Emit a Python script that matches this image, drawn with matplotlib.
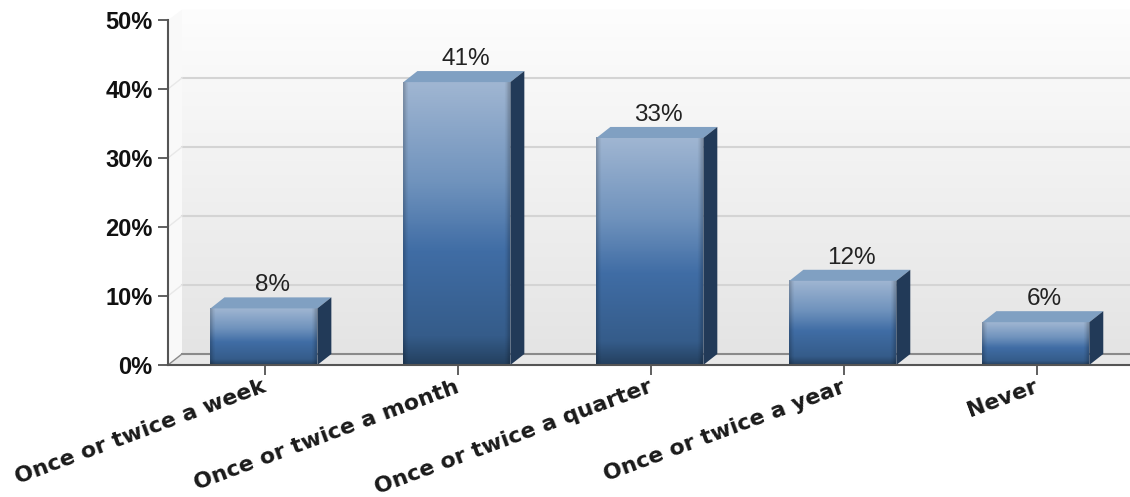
import matplotlib
matplotlib.use("Agg")
import matplotlib.pyplot as plt
import numpy as np
from matplotlib.colors import LinearSegmentedColormap
from matplotlib.patches import Polygon

categories = ["Once or twice a week", "Once or twice a month", "Once or twice a quarter",
              "Once or twice a year", "Never"]
values = [8, 41, 33, 12, 6]
bar_tops = [8.2, 41, 32.9, 12.2, 6.2]
y_ticks = [0, 10, 20, 30, 40, 50]

W, H = 1130, 497
bar_w = 0.554
dx, dy = 0.0725, 1.6  # 3d depth in data units
x0, x1 = -0.497, 4.488

plt.rcParams["font.family"] = ["Liberation Sans", "DejaVu Sans"]

fig = plt.figure(figsize=(W / 100, H / 100), dpi=100)
ax = fig.add_axes([168 / W, 1 - 365 / H, (W - 168) / W, 345 / H])

# back wall and side wall
wall = LinearSegmentedColormap.from_list("wall", ["#fdfdfd", "#e4e4e4"])
grad = np.linspace(0, 1, 256).reshape(-1, 1)
ax.imshow(grad, cmap=wall, extent=[x0 + dx, x1, dy, 51.5], aspect="auto",
          zorder=0, clip_on=False, vmin=0, vmax=1)
ax.add_patch(Polygon([(x0, 0), (x0 + dx, dy), (x0 + dx, 51.5), (x0, 50)],
                     fc="#f9f9f9", ec="none", zorder=0.5, clip_on=False))
ax.add_patch(Polygon([(x0, 0), (x0 + dx, dy), (x1, dy), (x1, 0)],
                     fc="#e8e8e8", ec="none", zorder=0.5))

# gridlines on the back wall, with the short diagonal back to the axis
for t in y_ticks[:-1]:
    c = "#8a8a8a" if t == 0 else "#d4d4d4"
    ax.plot([x0 + dx, x1], [t + dy, t + dy], color=c, lw=1.5, zorder=1)
    ax.plot([x0, x0 + dx], [t, t + dy], color=c if t == 0 else "#e8e8e8", lw=1.0, zorder=1)

front = LinearSegmentedColormap.from_list(
    "front", [(0, "#a0b6d2"), (0.35, "#7093bd"), (0.6, "#406da5"), (0.9, "#355c8a"), (1, "#24405f")])
v = np.linspace(0, 1, 128)
rgb = front(v)[:, :3][:, None, :].repeat(64, axis=1)
# edges of the front face go a bit darker
u = np.linspace(0, 1, 64)
shade = 1 - 0.2 * np.clip(1 - np.minimum(u, 1 - u) / 0.04, 0, 1)
rgb = rgb * shade[None, :, None]

for i, (cat, val, top) in enumerate(zip(categories, values, bar_tops)):
    l, r = i - bar_w / 2, i + bar_w / 2
    ax.imshow(rgb, extent=[l, r, 0, top], aspect="auto", zorder=3)
    ax.add_patch(Polygon([(l, top), (l + dx, top + dy), (r + dx, top + dy), (r, top)],
                         fc="#80a0c2", ec="none", zorder=3))
    ax.add_patch(Polygon([(r, 0), (r + dx, dy), (r + dx, top + dy), (r, top)],
                         fc="#223a58", ec="none", zorder=3))
    ax.text(i + 0.045, top + dy + 0.15, f"{val}%", ha="center", va="bottom",
            fontsize=17.5, color="#222222", zorder=4)
    # category label, placed by hand so it can sit left of the tick
    ax.annotate(cat, xy=(i + 0.006, 0), xycoords=ax.get_xaxis_transform(),
                xytext=(-2.2, -8.5), textcoords="offset points",
                rotation=20.4, rotation_mode="anchor", ha="right", va="top",
                family="DejaVu Sans", fontweight="bold", fontsize=15.8, color="#1a1a1a",
                annotation_clip=False)

ax.set_xlim(x0, x1)
ax.set_ylim(0, 50)

ax.set_xticks([i + 0.006 for i in range(len(categories))])
ax.set_xticklabels([])
ax.set_yticks(y_ticks)
ax.set_yticklabels([f"{t}%" for t in y_ticks], fontweight="bold", fontsize=17, color="#111111")
ax.tick_params(axis="x", length=7, width=1.2, color="#444444")
ax.tick_params(axis="y", length=7, width=1.2, color="#444444", pad=4)

ax.spines[["top", "right"]].set_visible(False)
for s in ["left", "bottom"]:
    ax.spines[s].set_color("#555555")
    ax.spines[s].set_linewidth(1.5)
    ax.spines[s].set_zorder(5)

fig.savefig("out.png", dpi=100)
